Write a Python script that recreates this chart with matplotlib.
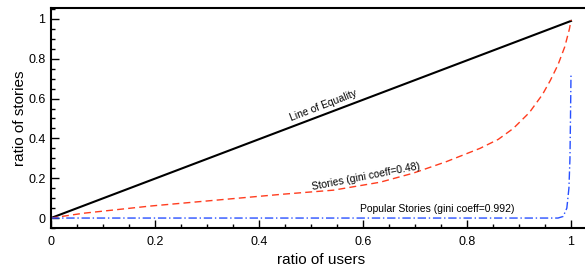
import numpy as np
import matplotlib.pyplot as plt
from matplotlib.ticker import MultipleLocator

plt.rcParams['font.family'] = ['Liberation Sans', 'DejaVu Sans']

# line of equality
eq_x = [0, 1.0]
eq_y = [0, 0.99]

# stories lorenz curve (gini 0.48)
st_x = [0, 0.062, 0.19, 0.318, 0.447, 0.543, 0.633, 0.696, 0.76, 0.825, 0.86,
        0.889, 0.92, 0.945, 0.96, 0.975, 0.988, 0.997, 1.0]
st_y = [0, 0.024, 0.06, 0.09, 0.12, 0.14, 0.18, 0.225, 0.283, 0.35, 0.395,
        0.45, 0.53, 0.62, 0.69, 0.77, 0.86, 0.95, 0.995]

# popular stories lorenz curve (gini 0.992)
pop_x = [0, 0.975, 0.985, 0.992, 0.996, 0.998, 0.999, 1.0]
pop_y = [0, 0, 0.008, 0.05, 0.15, 0.3, 0.5, 0.72]

fig = plt.figure(figsize=(5.85, 2.66), dpi=100)
ax = fig.add_axes([51/585, 1 - 228/266, 540/585, 220/266])

ax.plot(eq_x, eq_y, color='black', lw=1.5)
ax.plot(st_x, st_y, color='#ff3c1e', lw=1.0, ls=(0, (5, 3)))
ax.plot(pop_x, pop_y, color='#2850ff', lw=1.0, ls=(0, (6, 2, 1, 2)))

ax.text(0.524, 0.563, 'Line of Equality', rotation=21, fontsize=7.5,
        ha='center', va='center')
ax.text(0.605, 0.21, 'Stories (gini coeff=0.48)', rotation=11, fontsize=7.5,
        ha='center', va='center')
ax.text(0.742, 0.045, 'Popular Stories (gini coeff=0.992)', fontsize=7.5,
        ha='center', va='center')

ax.set_xlim(0, 540/520)
ax.set_ylim(-0.05, 1.055)
ax.xaxis.set_minor_locator(MultipleLocator(0.05))
ax.yaxis.set_minor_locator(MultipleLocator(0.05))
ax.set_xticks([0, 0.2, 0.4, 0.6, 0.8, 1.0])
ax.set_xticklabels(['0', '0.2', '0.4', '0.6', '0.8', '1'])
ax.set_yticks([0, 0.2, 0.4, 0.6, 0.8, 1.0])
ax.set_yticklabels(['0', '0.2', '0.4', '0.6', '0.8', '1'])
ax.tick_params(which='both', direction='in', labelsize=9, width=1)
ax.tick_params(which='major', length=6)
ax.tick_params(axis='x', which='major', pad=6)
ax.tick_params(axis='y', which='major', pad=4)
ax.tick_params(which='minor', length=3)
for s in ax.spines.values():
    s.set_linewidth(1.5)
ax.spines['right'].set_visible(False)

ax.set_xlabel('ratio of users', fontsize=11, labelpad=3)
ax.set_ylabel('ratio of stories', fontsize=11, labelpad=1)

fig.savefig('out.png', dpi=100)
